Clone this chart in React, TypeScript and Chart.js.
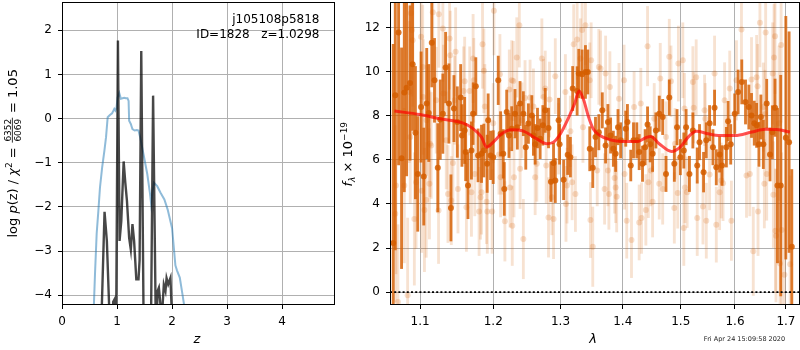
import React, { useEffect, useRef } from "react";
import { Chart, registerables } from "chart.js";
Chart.register(...registerables);

const FONT = "'DejaVu Sans', 'Liberation Sans', sans-serif";

// ---------------- Left panel: log p(z) ----------------
const zTicks = [0, 1, 2, 3, 4];
const logpTicks = [-4, -3, -2, -1, 0, 1, 2];
const zRange = [0, 4.96];
const logpRange = [-4.22, 2.64];

const blueZ = [0.56, 0.58, 0.6, 0.63, 0.66, 0.69, 0.73, 0.77, 0.8, 0.83, 0.87, 0.91, 0.93, 0.95, 0.97, 0.99, 1.01, 1.04, 1.07, 1.1, 1.13, 1.16, 1.19, 1.21, 1.22, 1.25, 1.28, 1.32, 1.36, 1.39, 1.42, 1.48, 1.55, 1.6, 1.62, 1.645, 1.67, 1.73, 1.79, 1.86, 1.92, 2.0, 2.06, 2.09, 2.14, 2.18, 2.22, 2.26];
const blueLogP = [-4.8, -4.2, -3.5, -2.6, -2.1, -1.56, -1.1, -0.73, -0.42, 0.03, 0.08, 0.12, 0.17, 0.22, 0.18, 0.24, 0.48, 0.58, 0.45, 0.46, 0.47, 0.46, 0.46, 0.4, -0.05, -0.12, -0.24, -0.27, -0.26, -0.27, -0.42, -0.8, -1.26, -1.71, -1.94, -1.65, -1.45, -1.53, -1.68, -1.83, -2.06, -2.48, -3.32, -3.44, -3.6, -3.91, -4.23, -4.9];

const blackZ = [0.7, 0.724, 0.773, 0.815, 0.858, 0.88, 0.93, 0.96, 0.985, 1.016, 1.046, 1.077, 1.12, 1.15, 1.18, 1.22, 1.25, 1.28, 1.31, 1.35, 1.39, 1.41, 1.44, 1.48, 1.5, 1.6, 1.62, 1.655, 1.7, 1.715, 1.735, 1.76, 1.79, 1.81, 1.85, 1.88, 1.9, 1.93, 1.97, 1.99, 2.02];
const blackLogP = [-6, -4.23, -2.11, -2.77, -4.3, -6, -4.15, -4.08, -4.4, 1.77, -2.77, -2.32, -0.97, -1.45, -1.86, -2.7, -2.96, -2.39, -2.77, -3.64, -3.64, -3.2, 1.53, -4.23, -6, -6, -4.23, 0.52, -4.23, -5, -3.91, -3.83, -4.23, -4.6, -3.76, -3.9, -3.61, -3.75, -3.61, -4.23, -6];

// ---------------- Right panel: spectrum ----------------
const lamTicks = [1.1, 1.2, 1.3, 1.4, 1.5, 1.6, 1.7];
const fluxTicks = [0, 2, 4, 6, 8, 10, 12];
const lamRange = [1.0613, 1.7287];
const fluxRange = [-0.58, 13.15];

const darkLam = [1.0654, 1.068, 1.0722, 1.076, 1.0795, 1.0825, 1.0869, 1.0903, 1.0939, 1.0969, 1.1013, 1.1048, 1.1087, 1.1114, 1.1154, 1.119, 1.1234, 1.1267, 1.1302, 1.1339, 1.1384, 1.1411, 1.1452, 1.1498, 1.1544, 1.1562, 1.1599, 1.1613, 1.1645, 1.1693, 1.1716, 1.1754, 1.1786, 1.1834, 1.1867, 1.1914, 1.1928, 1.1962, 1.2, 1.2072, 1.2106, 1.2144, 1.2159, 1.2194, 1.2227, 1.2267, 1.2315, 1.2349, 1.2389, 1.2438, 1.2474, 1.2513, 1.2564, 1.2588, 1.2614, 1.2649, 1.2689, 1.273, 1.2766, 1.2816, 1.2853, 1.2893, 1.292, 1.2971, 1.2986, 1.3049, 1.3112, 1.3154, 1.319, 1.326, 1.3286, 1.3339, 1.3392, 1.3429, 1.3461, 1.3509, 1.3553, 1.3607, 1.3663, 1.3717, 1.3755, 1.3799, 1.3844, 1.3882, 1.3921, 1.3965, 1.405, 1.4078, 1.4134, 1.418, 1.4236, 1.4276, 1.4333, 1.4378, 1.4419, 1.4464, 1.4506, 1.4563, 1.4621, 1.4681, 1.4739, 1.4797, 1.4886, 1.4934, 1.4993, 1.5055, 1.5096, 1.5156, 1.5218, 1.5297, 1.5339, 1.5413, 1.5463, 1.5524, 1.5586, 1.5616, 1.5648, 1.571, 1.5755, 1.5837, 1.5869, 1.5919, 1.5995, 1.606, 1.613, 1.6202, 1.6266, 1.6318, 1.6371, 1.6417, 1.6462, 1.6501, 1.6549, 1.6615, 1.6681, 1.6728, 1.6781, 1.683, 1.6895, 1.6998, 1.7064, 1.7119];
const darkFlux = [2.23, 8.92, 11.77, 6.07, 9.05, 9.27, 9.48, 10.33, 7.23, 5.36, 8.39, 5.24, 8.55, 8.12, 11.3, 9.6, 5.64, 7.82, 8.09, 10.18, 8.55, 3.82, 8.32, 7.71, 8.82, 7.1, 7.33, 6.35, 4.83, 6.42, 8.09, 9.33, 6.2, 6.27, 6.42, 5.82, 7.79, 6.2, 6.12, 9.6, 7.18, 6.27, 4.68, 8.16, 7.1, 7.41, 8.09, 7.48, 8.55, 8.09, 6.57, 7.64, 8.01, 7.1, 6.7, 7.44, 6.95, 7.56, 8.24, 7.44, 5.01, 5.85, 5.06, 7.79, 6.7, 5.09, 6.23, 6.12, 9.23, 9.12, 9.91, 9.88, 9.98, 9.98, 6.5, 5.64, 7.03, 7.25, 8.24, 6.65, 7.71, 7.1, 6.5, 6.27, 7.48, 6.88, 7.41, 7.71, 5.74, 6.88, 6.88, 6.35, 5.82, 6.57, 7.6, 6.7, 6.27, 7.33, 8.09, 7.94, 5.36, 8.82, 5.82, 7.48, 6.12, 6.42, 7.48, 5.36, 7.33, 5.74, 6.8, 5.44, 6.88, 7.66, 6.57, 8.36, 5.66, 6.24, 5.74, 6.57, 7.75, 6.7, 8.09, 9.07, 9.53, 8.62, 8.39, 8.01, 7.66, 7.56, 6.7, 7.94, 6.7, 8.55, 6.24, 7.25, 8.36, 4.83, 4.83, 7.0, 6.8, 2.06];
const darkErr = [9, 7, 6, 5, 4.5, 4, 3.5, 3, 3, 2.6, 2.5, 2.2, 2.5, 2.2, 2.0, 1.9, 2.0, 1.8, 1.8, 1.6, 1.8, 1.5, 1.5, 1.6, 1.5, 1.4, 1.5, 1.3, 1.5, 1.3, 1.4, 1.3, 1.2, 1.3, 1.2, 1.3, 1.2, 1.1, 1.2, 1.1, 1.0, 1.1, 1.2, 1.0, 1.0, 1.0, 1.1, 1.0, 1.0, 1.0, 1.0, 0.9, 0.9, 0.9, 0.9, 0.9, 0.9, 0.9, 1.0, 0.9, 0.9, 0.9, 1.0, 1.0, 0.9, 0.9, 0.9, 0.9, 1.0, 1.1, 1.1, 1.1, 1.2, 1.0, 1.0, 0.9, 0.9, 0.8, 0.8, 0.8, 0.8, 0.8, 0.8, 0.8, 0.8, 0.8, 0.8, 0.8, 0.7, 0.8, 0.8, 0.8, 0.8, 0.8, 0.8, 0.8, 0.8, 0.8, 0.8, 0.8, 0.8, 0.8, 0.8, 0.8, 0.8, 0.8, 0.8, 0.8, 0.8, 0.8, 0.8, 0.9, 0.8, 0.8, 0.8, 0.8, 0.8, 0.8, 0.9, 0.9, 0.9, 0.9, 0.9, 1.0, 1.0, 1.0, 1.0, 1.0, 1.0, 1.0, 1.0, 1.0, 1.1, 1.1, 1.2, 1.2, 1.3, 3.5, 5.0, 5.5, 5.0, 3.5];

const lightLam = [1.068, 1.0689, 1.0714, 1.0795, 1.0838, 1.086, 1.0872, 1.0881, 1.0894, 1.0903, 1.0925, 1.0947, 1.1013, 1.1021, 1.1034, 1.104, 1.1057, 1.108, 1.1085, 1.1123, 1.113, 1.1146, 1.1167, 1.1213, 1.1244, 1.1248, 1.1302, 1.131, 1.1348, 1.1371, 1.1393, 1.1402, 1.1416, 1.1438, 1.1461, 1.1475, 1.1507, 1.1585, 1.1599, 1.1623, 1.1669, 1.1693, 1.1716, 1.1726, 1.174, 1.18, 1.182, 1.1834, 1.1848, 1.1867, 1.1881, 1.1905, 1.1916, 1.1985, 1.2, 1.201, 1.2082, 1.2096, 1.2106, 1.2121, 1.2168, 1.2232, 1.2242, 1.2267, 1.2275, 1.229, 1.23, 1.2341, 1.2379, 1.239, 1.2418, 1.2438, 1.2463, 1.2538, 1.2588, 1.2614, 1.2639, 1.2715, 1.274, 1.2766, 1.2781, 1.2816, 1.2831, 1.2868, 1.2893, 1.292, 1.2971, 1.3076, 1.3085, 1.3102, 1.3154, 1.3181, 1.3206, 1.3233, 1.326, 1.3312, 1.3339, 1.3352, 1.3392, 1.3461, 1.3472, 1.3483, 1.3509, 1.3581, 1.3607, 1.3635, 1.3701, 1.3717, 1.3755, 1.3771, 1.3787, 1.3865, 1.3882, 1.3899, 1.3937, 1.4021, 1.403, 1.4066, 1.4146, 1.419, 1.4276, 1.4304, 1.4316, 1.439, 1.4419, 1.4433, 1.4476, 1.4506, 1.4534, 1.4621, 1.4639, 1.4681, 1.4739, 1.4797, 1.4827, 1.4886, 1.4898, 1.4946, 1.4958, 1.5037, 1.5055, 1.5066, 1.5075, 1.5115, 1.5218, 1.5233, 1.5278, 1.5297, 1.5402, 1.5431, 1.5444, 1.5463, 1.5524, 1.5616, 1.5648, 1.571, 1.5742, 1.5774, 1.5804, 1.59, 1.5932, 1.6028, 1.6124, 1.6221, 1.6285, 1.6318, 1.6352, 1.6417, 1.6436, 1.6445, 1.6482, 1.6549, 1.6569, 1.6581, 1.6595, 1.6615, 1.6734, 1.6748, 1.6761, 1.6781, 1.679, 1.68, 1.6861, 1.6881, 1.6903, 1.6915, 1.697, 1.7085];
const lightFlux = [3.55, 4.83, -0.44, 4.83, -0.14, 9.07, 7.03, 12.64, 11.88, 11.42, 3.32, 4.98, 11.57, 4.6, 10.21, 8.85, 3.73, 4.18, 7.79, 4.91, 6.73, 6.65, 12.68, 8.7, 3.7, 12.59, 11.95, 9.0, 6.88, 4.45, 11.5, 10.74, 4.15, 5.85, 8.7, 10.89, 4.68, 9.12, 9.56, 3.85, 9.12, 4.53, 10.59, 9.6, 5.36, 3.66, 4.3, 4.53, 11.24, 10.03, 8.42, 4.1, 3.66, 3.66, 7.66, 12.75, 6.24, 9.88, 5.21, 6.24, 3.21, 9.18, 4.75, 9.6, 3.01, 9.57, 5.21, 10.64, 12.1, 5.59, 7.79, 2.41, 8.8, 8.82, 8.42, 5.21, 5.82, 10.59, 8.85, 9.23, 5.74, 3.39, 8.73, 4.3, 3.32, 9.79, 6.95, 9.07, 4.0, 4.83, 7.29, 4.98, 11.23, 4.45, 11.45, 10.59, 11.88, 7.48, 12.1, 9.6, 3.27, 10.51, 2.06, 5.51, 10.21, 10.14, 4.68, 9.91, 5.51, 4.45, 9.3, 5.18, 4.75, 4.33, 8.77, 9.6, 5.36, 3.24, 2.36, 8.39, 3.16, 8.55, 3.36, 3.73, 11.15, 4.98, 5.51, 4.1, 7.86, 4.91, 9.68, 4.68, 7.03, 10.67, 9.56, 3.82, 6.73, 4.5, 10.36, 10.51, 2.91, 8.32, 4.75, 4.53, 9.53, 8.36, 9.74, 3.36, 3.88, 8.24, 7.86, 3.24, 5.33, 9.91, 3.06, 4.53, 5.06, 4.94, 8.7, 9.23, 3.24, 9.6, 11.9, 5.29, 5.36, 9.64, 1.85, 9.74, 9.33, 3.66, 12.21, 8.39, 4.91, 8.06, 11.77, 5.36, 9.91, 4.42, 10.64, 11.6, 2.79, 2.56, 7.66, 1.3, 11.2, 2.82, 0.79, 1.27];
const lightErr = [4.0, 4.0, 3.5, 3.5, 3.5, 3.2, 3.0, 3.0, 3.0, 3.0, 3.0, 3.0, 2.8, 2.8, 2.8, 2.6, 2.8, 2.6, 2.5, 2.5, 2.4, 2.4, 2.6, 2.4, 2.4, 2.4, 2.4, 2.2, 2.2, 2.2, 2.3, 2.0, 2.0, 2.0, 2.0, 2.0, 2.0, 2.0, 2.0, 2.0, 2.0, 2.0, 2.0, 1.9, 1.9, 2.0, 1.9, 1.9, 2.0, 1.9, 1.9, 1.9, 1.9, 1.9, 1.8, 2.0, 1.8, 1.8, 1.8, 1.8, 1.8, 1.8, 1.8, 1.8, 1.8, 1.8, 1.8, 1.8, 1.9, 1.8, 1.7, 1.8, 1.7, 1.7, 1.7, 1.7, 1.7, 1.8, 1.7, 1.7, 1.7, 1.8, 1.7, 1.7, 1.8, 1.7, 1.6, 1.7, 1.7, 1.7, 1.6, 1.7, 1.8, 1.7, 1.8, 1.8, 1.8, 1.6, 1.8, 1.7, 1.7, 1.7, 1.8, 1.6, 1.7, 1.7, 1.6, 1.7, 1.6, 1.6, 1.6, 1.6, 1.6, 1.6, 1.6, 1.6, 1.6, 1.7, 1.7, 1.6, 1.7, 1.6, 1.6, 1.6, 1.8, 1.6, 1.6, 1.6, 1.6, 1.6, 1.6, 1.6, 1.6, 1.7, 1.6, 1.6, 1.6, 1.6, 1.7, 1.7, 1.7, 1.6, 1.6, 1.6, 1.6, 1.6, 1.7, 1.7, 1.7, 1.6, 1.6, 1.7, 1.6, 1.7, 1.7, 1.7, 1.7, 1.7, 1.7, 1.7, 1.8, 1.8, 1.9, 1.9, 1.9, 1.9, 2.0, 1.9, 1.9, 2.0, 2.0, 2.0, 2.0, 2.0, 2.1, 2.1, 2.3, 2.4, 2.4, 2.6, 2.8, 3.0, 3.5, 3.5, 3.5, 3.5, 4.0, 4.0];

const modelLam = [1.067, 1.1, 1.126, 1.158, 1.1715, 1.1834, 1.1905, 1.2, 1.2121, 1.2267, 1.2438, 1.2639, 1.2791, 1.2893, 1.3, 1.3119, 1.3221, 1.329, 1.3365, 1.3434, 1.3515, 1.3624, 1.3788, 1.4, 1.4245, 1.4388, 1.4475, 1.4619, 1.4837, 1.5, 1.5133, 1.5284, 1.55, 1.5686, 1.6, 1.6323, 1.6587, 1.6855, 1.708];
const modelFlux = [8.21, 8.05, 7.86, 7.66, 7.41, 7.03, 6.57, 6.8, 7.18, 7.36, 7.3, 6.95, 6.73, 6.8, 7.18, 7.86, 8.55, 9.12, 8.7, 8.01, 7.41, 7.1, 6.91, 6.83, 6.83, 7.0, 7.06, 6.73, 6.38, 6.6, 7.03, 7.29, 7.18, 7.1, 7.1, 7.26, 7.38, 7.36, 7.26];

// ---------------- helpers ----------------
const fmtNum = (v: number, d: number) => {
  const s = Math.abs(v).toFixed(d);
  return v < 0 ? "\u2212" + s : s;
};

type Piece = { text?: string; font: string; dy?: number; frac?: [string, string] };

function drawRotated(ctx: CanvasRenderingContext2D, pieces: Piece[], baseX: number, centerY: number) {
  ctx.save();
  ctx.translate(baseX, centerY);
  ctx.rotate(-Math.PI / 2);
  ctx.fillStyle = "#000";
  ctx.textBaseline = "alphabetic";
  const widths = pieces.map((p) => {
    ctx.font = p.font;
    if (p.frac) return Math.max(ctx.measureText(p.frac[0]).width, ctx.measureText(p.frac[1]).width) + 3;
    return ctx.measureText(p.text || "").width;
  });
  const total = widths.reduce((a, b) => a + b, 0);
  let x = -total / 2;
  pieces.forEach((p, i) => {
    ctx.font = p.font;
    if (p.frac) {
      const w = widths[i];
      ctx.textAlign = "center";
      ctx.fillText(p.frac[0], x + w / 2, -5.8);
      ctx.fillText(p.frac[1], x + w / 2, 4.4);
      ctx.fillRect(x + 0.5, -4.6, w - 1, 0.8);
    } else {
      ctx.textAlign = "left";
      ctx.fillText(p.text || "", x, p.dy || 0);
    }
    x += widths[i];
  });
  ctx.restore();
}

const spinePlugin = {
  id: "spines",
  afterDraw(chart: any) {
    const { ctx, chartArea: a } = chart;
    ctx.save();
    ctx.strokeStyle = "#000";
    ctx.lineWidth = 1;
    const l = Math.round(a.left) + 0.5;
    const t = Math.round(a.top) + 0.5;
    const r = Math.round(a.right) - 0.5;
    const b = Math.round(a.bottom) - 0.5;
    ctx.strokeRect(l, t, r - l, b - t);
    ctx.restore();
  },
};

const tickFont = { family: FONT, size: 12 };
const gridOpts = { color: "#b0b0b0", lineWidth: 1, tickColor: "#000", tickLength: 4, offset: false, drawTicks: true };

const fitX = (s: any) => { s.height = 45; s.paddingLeft = 0; s.paddingRight = 0; s.paddingTop = 0; s.paddingBottom = 0; };
const fitY = (w: number) => (s: any) => { s.width = w; s.paddingTop = 0; s.paddingBottom = 0; s.paddingLeft = 0; s.paddingRight = 0; };

export default function App() {
  const leftRef = useRef<HTMLCanvasElement>(null);
  const rightRef = useRef<HTMLCanvasElement>(null);

  useEffect(() => {
    const leftDeco = {
      id: "leftDeco",
      afterDraw(chart: any) {
        const ctx = chart.ctx;
        ctx.save();
        ctx.fillStyle = "#000";
        ctx.font = `12px ${FONT}`;
        ctx.textAlign = "right";
        ctx.textBaseline = "middle";
        ctx.fillText("j105108p5818", 319.5, 20);
        ctx.fillText("ID=1828   z=1.0298", 319.5, 34.5);
        ctx.textAlign = "center";
        ctx.font = `italic 13px ${FONT}`;
        ctx.fillText("z", 197, 340);
        ctx.restore();
        const R = `13px ${FONT}`;
        const I = `italic 13px ${FONT}`;
        const S = `9px ${FONT}`;
        drawRotated(ctx, [
          { text: "log ", font: R },
          { text: "p", font: I },
          { text: "(z) / ", font: R },
          { text: "\u03c7", font: I },
          { text: "2", font: S, dy: -5 },
          { text: " = ", font: R },
          { frac: ["6352", "6069"], font: S },
          { text: " = 1.05", font: R },
        ], 16.5, 153.3);
      },
    };

    const rightDeco = {
      id: "rightDeco",
      afterDraw(chart: any) {
        const ctx = chart.ctx;
        ctx.save();
        ctx.fillStyle = "#000";
        ctx.textAlign = "center";
        ctx.textBaseline = "middle";
        ctx.font = `italic 13px ${FONT}`;
        ctx.fillText("\u03bb", 258, 340);
        ctx.fillStyle = "#222";
        ctx.font = `6.5px ${FONT}`;
        ctx.fillText("Fri Apr 24 15:09:58 2020", 409.5, 339.5);
        ctx.restore();
        drawRotated(ctx, [
          { text: "f", font: `italic 13px ${FONT}` },
          { text: "\u03bb", font: `italic 9px ${FONT}`, dy: 3 },
          { text: " \u00d7 10", font: `13px ${FONT}` },
          { text: "\u221219", font: `9px ${FONT}`, dy: -5.5 },
        ], 17, 154.2);
      },
    };

    const common = {
      responsive: false,
      animation: false as const,
      devicePixelRatio: 1,
      events: [] as any[],
      plugins: { legend: { display: false }, tooltip: { enabled: false } },
    };

    const left = new Chart(leftRef.current!, {
      type: "scatter",
      data: {
        datasets: [
          {
            type: "line",
            data: blueZ.map((z, i) => ({ x: z, y: blueLogP[i] })),
            borderColor: "rgba(31,119,180,0.5)",
            borderWidth: 2,
            pointRadius: 0,
            tension: 0,
            clip: 0,
            order: 2,
          } as any,
          {
            type: "line",
            data: blackZ.map((z, i) => ({ x: z, y: blackLogP[i] })),
            borderColor: "rgba(0,0,0,0.72)",
            borderWidth: 2.4,
            pointRadius: 0,
            tension: 0,
            clip: 0,
            order: 1,
          } as any,
        ],
      },
      options: {
        ...common,
        layout: { autoPadding: false, padding: { left: 0, right: 5, top: 2, bottom: 0 } },
        scales: {
          x: {
            type: "linear",
            min: zRange[0],
            max: zRange[1],
            offset: false,
            afterBuildTicks: (s: any) => { s.ticks = zTicks.map((v) => ({ value: v })); },
            afterFit: fitX,
            ticks: { font: tickFont, color: "#000", padding: 6, maxRotation: 0, autoSkip: false, callback: (v: any) => fmtNum(Number(v), 0) },
            grid: gridOpts,
            border: { display: false },
          },
          y: {
            type: "linear",
            min: logpRange[0],
            max: logpRange[1],
            afterBuildTicks: (s: any) => { s.ticks = logpTicks.map((v) => ({ value: v })); },
            afterFit: fitY(62),
            ticks: { font: tickFont, color: "#000", padding: 6, autoSkip: false, callback: (v: any) => fmtNum(Number(v), 0) },
            grid: gridOpts,
            border: { display: false },
          },
        },
      } as any,
      plugins: [spinePlugin, leftDeco],
    });

    const right = new Chart(rightRef.current!, {
      type: "scatter",
      data: {
        datasets: [
          {
            type: "bar",
            data: lightLam.map((l, i) => ({ x: l, y: [lightFlux[i] - lightErr[i], lightFlux[i] + lightErr[i]] })),
            backgroundColor: "rgba(213,94,0,0.18)",
            borderWidth: 0,
            barThickness: 2.2,
            grouped: false,
            clip: 0,
            order: 7,
          } as any,
          {
            type: "scatter",
            data: lightLam.map((l, i) => ({ x: l, y: lightFlux[i] })),
            backgroundColor: "rgba(213,94,0,0.2)",
            borderWidth: 0,
            pointRadius: 3,
            clip: 0,
            order: 6,
          } as any,
          {
            type: "bar",
            data: darkLam.map((l, i) => ({ x: l, y: [darkFlux[i] - darkErr[i], darkFlux[i] + darkErr[i]] })),
            backgroundColor: "rgba(213,94,0,0.82)",
            borderWidth: 0,
            barThickness: 2.2,
            grouped: false,
            clip: 0,
            order: 5,
          } as any,
          {
            type: "scatter",
            data: darkLam.map((l, i) => ({ x: l, y: darkFlux[i] })),
            backgroundColor: "rgba(213,94,0,0.85)",
            borderWidth: 0,
            pointRadius: 3,
            clip: 0,
            order: 4,
          } as any,
          {
            type: "line",
            data: modelLam.map((l, i) => ({ x: l, y: modelFlux[i] })),
            borderColor: "rgba(255,0,0,0.68)",
            borderWidth: 3,
            pointRadius: 0,
            cubicInterpolationMode: "monotone",
            clip: 0,
            order: 3,
          } as any,
          {
            type: "line",
            data: lamRange.map((l) => ({ x: l, y: 0 })),
            borderColor: "#000",
            borderWidth: 1.8,
            borderDash: [2, 2.2],
            pointRadius: 0,
            clip: 0,
            order: 1,
          } as any,
        ],
      },
      options: {
        ...common,
        layout: { autoPadding: false, padding: { left: 0, right: 0, top: 2, bottom: 0 } },
        scales: {
          x: {
            type: "logarithmic",
            min: lamRange[0],
            max: lamRange[1],
            offset: false,
            afterBuildTicks: (s: any) => { s.ticks = lamTicks.map((v) => ({ value: v })); },
            afterFit: fitX,
            ticks: { font: tickFont, color: "#000", padding: 6, maxRotation: 0, autoSkip: false, callback: (v: any) => Number(v).toFixed(1) },
            grid: gridOpts,
            border: { display: false },
          },
          y: {
            type: "linear",
            min: fluxRange[0],
            max: fluxRange[1],
            beginAtZero: false,
            afterBuildTicks: (s: any) => { s.ticks = fluxTicks.map((v) => ({ value: v })); },
            afterFit: fitY(55),
            ticks: { font: tickFont, color: "#000", padding: 6, autoSkip: false, callback: (v: any) => fmtNum(Number(v), 0) },
            grid: gridOpts,
            border: { display: false },
          },
        },
      } as any,
      plugins: [spinePlugin, rightDeco],
    });

    return () => {
      left.destroy();
      right.destroy();
    };
  }, []);

  return (
    <div style={{ position: "fixed", left: 0, top: 0, width: 800, height: 350, background: "#fff" }}>
      <canvas ref={leftRef} width={340} height={350} style={{ position: "absolute", left: 0, top: 0, width: 340, height: 350 }} />
      <canvas ref={rightRef} width={465} height={350} style={{ position: "absolute", left: 335, top: 0, width: 465, height: 350 }} />
    </div>
  );
}
